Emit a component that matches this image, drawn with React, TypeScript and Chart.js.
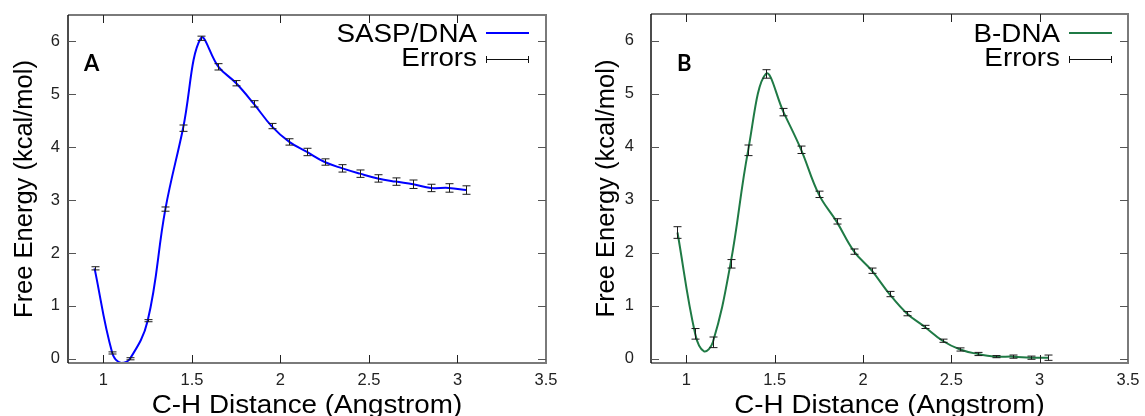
import React, { useEffect, useRef } from 'react';
import { Chart, registerables } from 'chart.js';

Chart.register(...registerables);

// ---------- data ----------
const X_TICKS = [1, 1.5, 2, 2.5, 3, 3.5];
const Y_TICKS = [0, 1, 2, 3, 4, 5, 6];

const DIST = [0.95, 1.05, 1.15, 1.25, 1.35, 1.45, 1.55, 1.65, 1.75, 1.85, 1.95, 2.05, 2.15, 2.25, 2.35, 2.45, 2.55, 2.65, 2.75, 2.85, 2.95, 3.05];

const SASP_DNA = [1.71, 0.11, 0.0, 0.72, 2.83, 4.36, 6.06, 5.52, 5.21, 4.82, 4.4, 4.1, 3.91, 3.72, 3.6, 3.5, 3.41, 3.35, 3.3, 3.23, 3.23, 3.19];
const SASP_ERR = [0.03, 0.02, 0.02, 0.02, 0.04, 0.06, 0.04, 0.06, 0.05, 0.06, 0.05, 0.06, 0.07, 0.06, 0.07, 0.07, 0.07, 0.07, 0.08, 0.07, 0.08, 0.08];
// extra curve samples read from the smooth fit (minimum of the well)
const SASP_CURVE_EXTRA_X = [1.1];
const SASP_CURVE_EXTRA_Y = [-0.08];

const B_DNA = [2.38, 0.47, 0.31, 1.79, 3.93, 5.37, 4.65, 3.94, 3.1, 2.59, 2.02, 1.66, 1.22, 0.85, 0.6, 0.34, 0.175, 0.09, 0.04, 0.04, 0.02, 0.02];
const B_ERR = [0.11, 0.1, 0.1, 0.08, 0.1, 0.08, 0.07, 0.07, 0.06, 0.05, 0.05, 0.05, 0.05, 0.04, 0.03, 0.03, 0.03, 0.03, 0.02, 0.03, 0.03, 0.05];
const B_CURVE_EXTRA_X = [1.1];
const B_CURVE_EXTRA_Y = [0.14];

const X_TITLE = 'C-H Distance (Angstrom)';
const Y_TITLE = 'Free Energy (kcal/mol)';
const ERR_LABEL = 'Errors';

const FONT = '"Liberation Sans", Arial, sans-serif';
const STRETCH = 1.09;

function curvePoints(xs: number[], ys: number[], ex: number[], ey: number[]) {
  const pts = xs.map((x, i) => ({ x, y: ys[i] }));
  ex.forEach((x, i) => pts.push({ x, y: ey[i] }));
  pts.sort((a, b) => a.x - b.x);
  return pts;
}

function stretchedText(ctx: any, text: string, x: number, y: number, align: 'left' | 'right' | 'center') {
  ctx.save();
  ctx.translate(x, y);
  ctx.scale(STRETCH, 1);
  ctx.textAlign = align;
  ctx.textBaseline = 'alphabetic';
  ctx.fillText(text, 0, 0);
  ctx.restore();
}

const decorPlugin = {
  id: 'decor',
  afterDatasetsDraw(chart: any, _args: any, opts: any) {
    const { ctx, chartArea, scales } = chart;
    const { left, right, top, bottom } = chartArea;
    const x = scales.x;
    const y = scales.y;
    ctx.save();

    // error bars
    ctx.strokeStyle = '#1a1a1a';
    ctx.lineWidth = 1;
    opts.ex.forEach((xv: number, i: number) => {
      const px = Math.round(x.getPixelForValue(xv)) + 0.5;
      const y1 = y.getPixelForValue(opts.ey[i] - opts.ee[i]);
      const y2 = y.getPixelForValue(opts.ey[i] + opts.ee[i]);
      ctx.beginPath();
      ctx.moveTo(px, y1);
      ctx.lineTo(px, y2);
      ctx.moveTo(px - 4, y1);
      ctx.lineTo(px + 4, y1);
      ctx.moveTo(px - 4, y2);
      ctx.lineTo(px + 4, y2);
      ctx.stroke();
    });

    // frame
    ctx.strokeStyle = '#7a7a7a';
    ctx.lineWidth = 2;
    ctx.beginPath();
    ctx.moveTo(left, top);
    ctx.lineTo(right, top);
    ctx.lineTo(right, bottom);
    ctx.lineTo(left, bottom);
    ctx.stroke();
    ctx.strokeStyle = '#111';
    ctx.lineWidth = 1.5;
    ctx.beginPath();
    ctx.moveTo(left, top);
    ctx.lineTo(left, bottom);
    ctx.stroke();

    // inward ticks (mirrored)
    ctx.lineWidth = 1;
    ctx.strokeStyle = '#555';
    const tl = 8;
    Y_TICKS.forEach((v) => {
      const py = Math.round(y.getPixelForValue(v)) + 0.5;
      ctx.beginPath();
      ctx.moveTo(left, py);
      ctx.lineTo(left + tl, py);
      ctx.moveTo(right, py);
      ctx.lineTo(right - tl, py);
      ctx.stroke();
    });
    ctx.strokeStyle = '#222';
    X_TICKS.forEach((v) => {
      if (v >= x.max) return;
      const px = Math.round(x.getPixelForValue(v)) + 0.5;
      ctx.beginPath();
      ctx.moveTo(px, bottom);
      ctx.lineTo(px, bottom - tl);
      ctx.moveTo(px, top);
      ctx.lineTo(px, top + tl);
      ctx.stroke();
    });

    // legend
    const lx = opts.legendX;
    ctx.font = `25.5px ${FONT}`;
    ctx.fillStyle = '#000';
    stretchedText(ctx, opts.label, lx, 42, 'right');
    stretchedText(ctx, ERR_LABEL, lx, 66, 'right');
    ctx.strokeStyle = opts.color;
    ctx.lineWidth = 2;
    ctx.beginPath();
    ctx.moveTo(lx + 9, 33);
    ctx.lineTo(lx + 52, 33);
    ctx.stroke();
    ctx.strokeStyle = '#111';
    ctx.lineWidth = 1;
    ctx.beginPath();
    ctx.moveTo(lx + 9, 59.5);
    ctx.lineTo(lx + 52, 59.5);
    ctx.moveTo(lx + 9.5, 56);
    ctx.lineTo(lx + 9.5, 63);
    ctx.moveTo(lx + 51.5, 56);
    ctx.lineTo(lx + 51.5, 63);
    ctx.stroke();

    // x axis title
    ctx.font = `25.5px ${FONT}`;
    ctx.fillStyle = '#000';
    stretchedText(ctx, X_TITLE, (left + right) / 2, 413, 'center');

    // panel letter
    ctx.font = `bold 22px Lato, ${FONT}`;
    ctx.textAlign = 'left';
    ctx.textBaseline = 'alphabetic';
    ctx.fillStyle = '#000';
    ctx.fillText(opts.panel, left + opts.panelDx, 71);

    ctx.restore();
  },
};

interface PanelProps {
  left: number;
  width: number;
  axisWidth: number;
  padRight: number;
  padTop: number;
  tickPad: number;
  titleOffset: number;
  ys: number[];
  errs: number[];
  extraX: number[];
  extraY: number[];
  color: string;
  label: string;
  panel: string;
  panelDx: number;
  legendX: number;
}

function Panel(p: PanelProps) {
  const ref = useRef<HTMLCanvasElement | null>(null);
  useEffect(() => {
    if (!ref.current) return;
    const chart = new Chart(ref.current, {
      type: 'line',
      data: {
        datasets: [
          {
            data: curvePoints(DIST, p.ys, p.extraX, p.extraY),
            borderColor: p.color,
            borderWidth: 2,
            pointRadius: 0,
            tension: 0.4,
            fill: false,
          },
        ],
      },
      options: {
        animation: false,
        responsive: false,
        maintainAspectRatio: false,
        layout: { padding: { left: 0, top: p.padTop, right: p.padRight, bottom: 0 } },
        plugins: {
          legend: { display: false },
          tooltip: { enabled: false },
          decor: {
            ex: DIST,
            ey: p.ys,
            ee: p.errs,
            color: p.color,
            label: p.label,
            panel: p.panel,
            panelDx: p.panelDx,
            legendX: p.legendX,
          },
        } as any,
        scales: {
          x: {
            type: 'linear',
            min: 0.8,
            max: 3.5,
            afterBuildTicks: (s: any) => {
              s.ticks = X_TICKS.map((v) => ({ value: v }));
            },
            afterFit: (s: any) => {
              s.height = 53;
              s.paddingLeft = 0;
              s.paddingRight = 0;
              s.paddingTop = 0;
              s.paddingBottom = 0;
            },
            grid: { display: false, drawTicks: false },
            border: { display: false },
            ticks: {
              padding: 8,
              color: '#222',
              font: { size: 16.5, family: FONT },
              maxRotation: 0,
              autoSkip: false,
              callback: (v: any) => String(v),
            },
            title: { display: false },
          },
          y: {
            type: 'linear',
            min: -0.08,
            max: 6.5,
            afterBuildTicks: (s: any) => {
              s.ticks = Y_TICKS.map((v) => ({ value: v }));
            },
            afterFit: (s: any) => {
              s.width = p.axisWidth;
              s.paddingLeft = 0;
              s.paddingRight = 0;
              s.paddingTop = 0;
              s.paddingBottom = 0;
            },
            grid: { display: false, drawTicks: false },
            border: { display: false },
            ticks: {
              padding: p.tickPad,
              color: '#222',
              font: { size: 16.5, family: FONT },
              autoSkip: false,
              callback: (v: any) => String(v),
            },
            title: {
              display: true,
              text: Y_TITLE,
              color: '#000',
              font: { size: 25.5, family: FONT, lineHeight: 1 },
              padding: { top: p.titleOffset, bottom: 0 },
            },
          },
        },
      },
      plugins: [decorPlugin],
    });
    return () => chart.destroy();
  }, []);
  return (
    <canvas
      ref={ref}
      width={p.width}
      height={416}
      style={{ position: 'absolute', left: p.left, top: 0, width: p.width, height: 416 }}
    />
  );
}

export default function App() {
  return (
    <div style={{ position: 'absolute', left: 0, top: 0, width: 1145, height: 416, background: '#fff' }}>
      <Panel
        left={0}
        width={572}
        axisWidth={68}
        padRight={26}
        padTop={15}
        tickPad={8}
        titleOffset={12}
        ys={SASP_DNA}
        errs={SASP_ERR}
        extraX={SASP_CURVE_EXTRA_X}
        extraY={SASP_CURVE_EXTRA_Y}
        color="#0000ff"
        label="SASP/DNA"
        panel="A"
        panelDx={16}
        legendX={477}
      />
      <Panel
        left={572}
        width={573}
        axisWidth={79}
        padRight={17}
        padTop={14}
        tickPad={17}
        titleOffset={22}
        ys={B_DNA}
        errs={B_ERR}
        extraX={B_CURVE_EXTRA_X}
        extraY={B_CURVE_EXTRA_Y}
        color="#1f7a45"
        label="B-DNA"
        panel="B"
        panelDx={26}
        legendX={1060 - 572}
      />
    </div>
  );
}
